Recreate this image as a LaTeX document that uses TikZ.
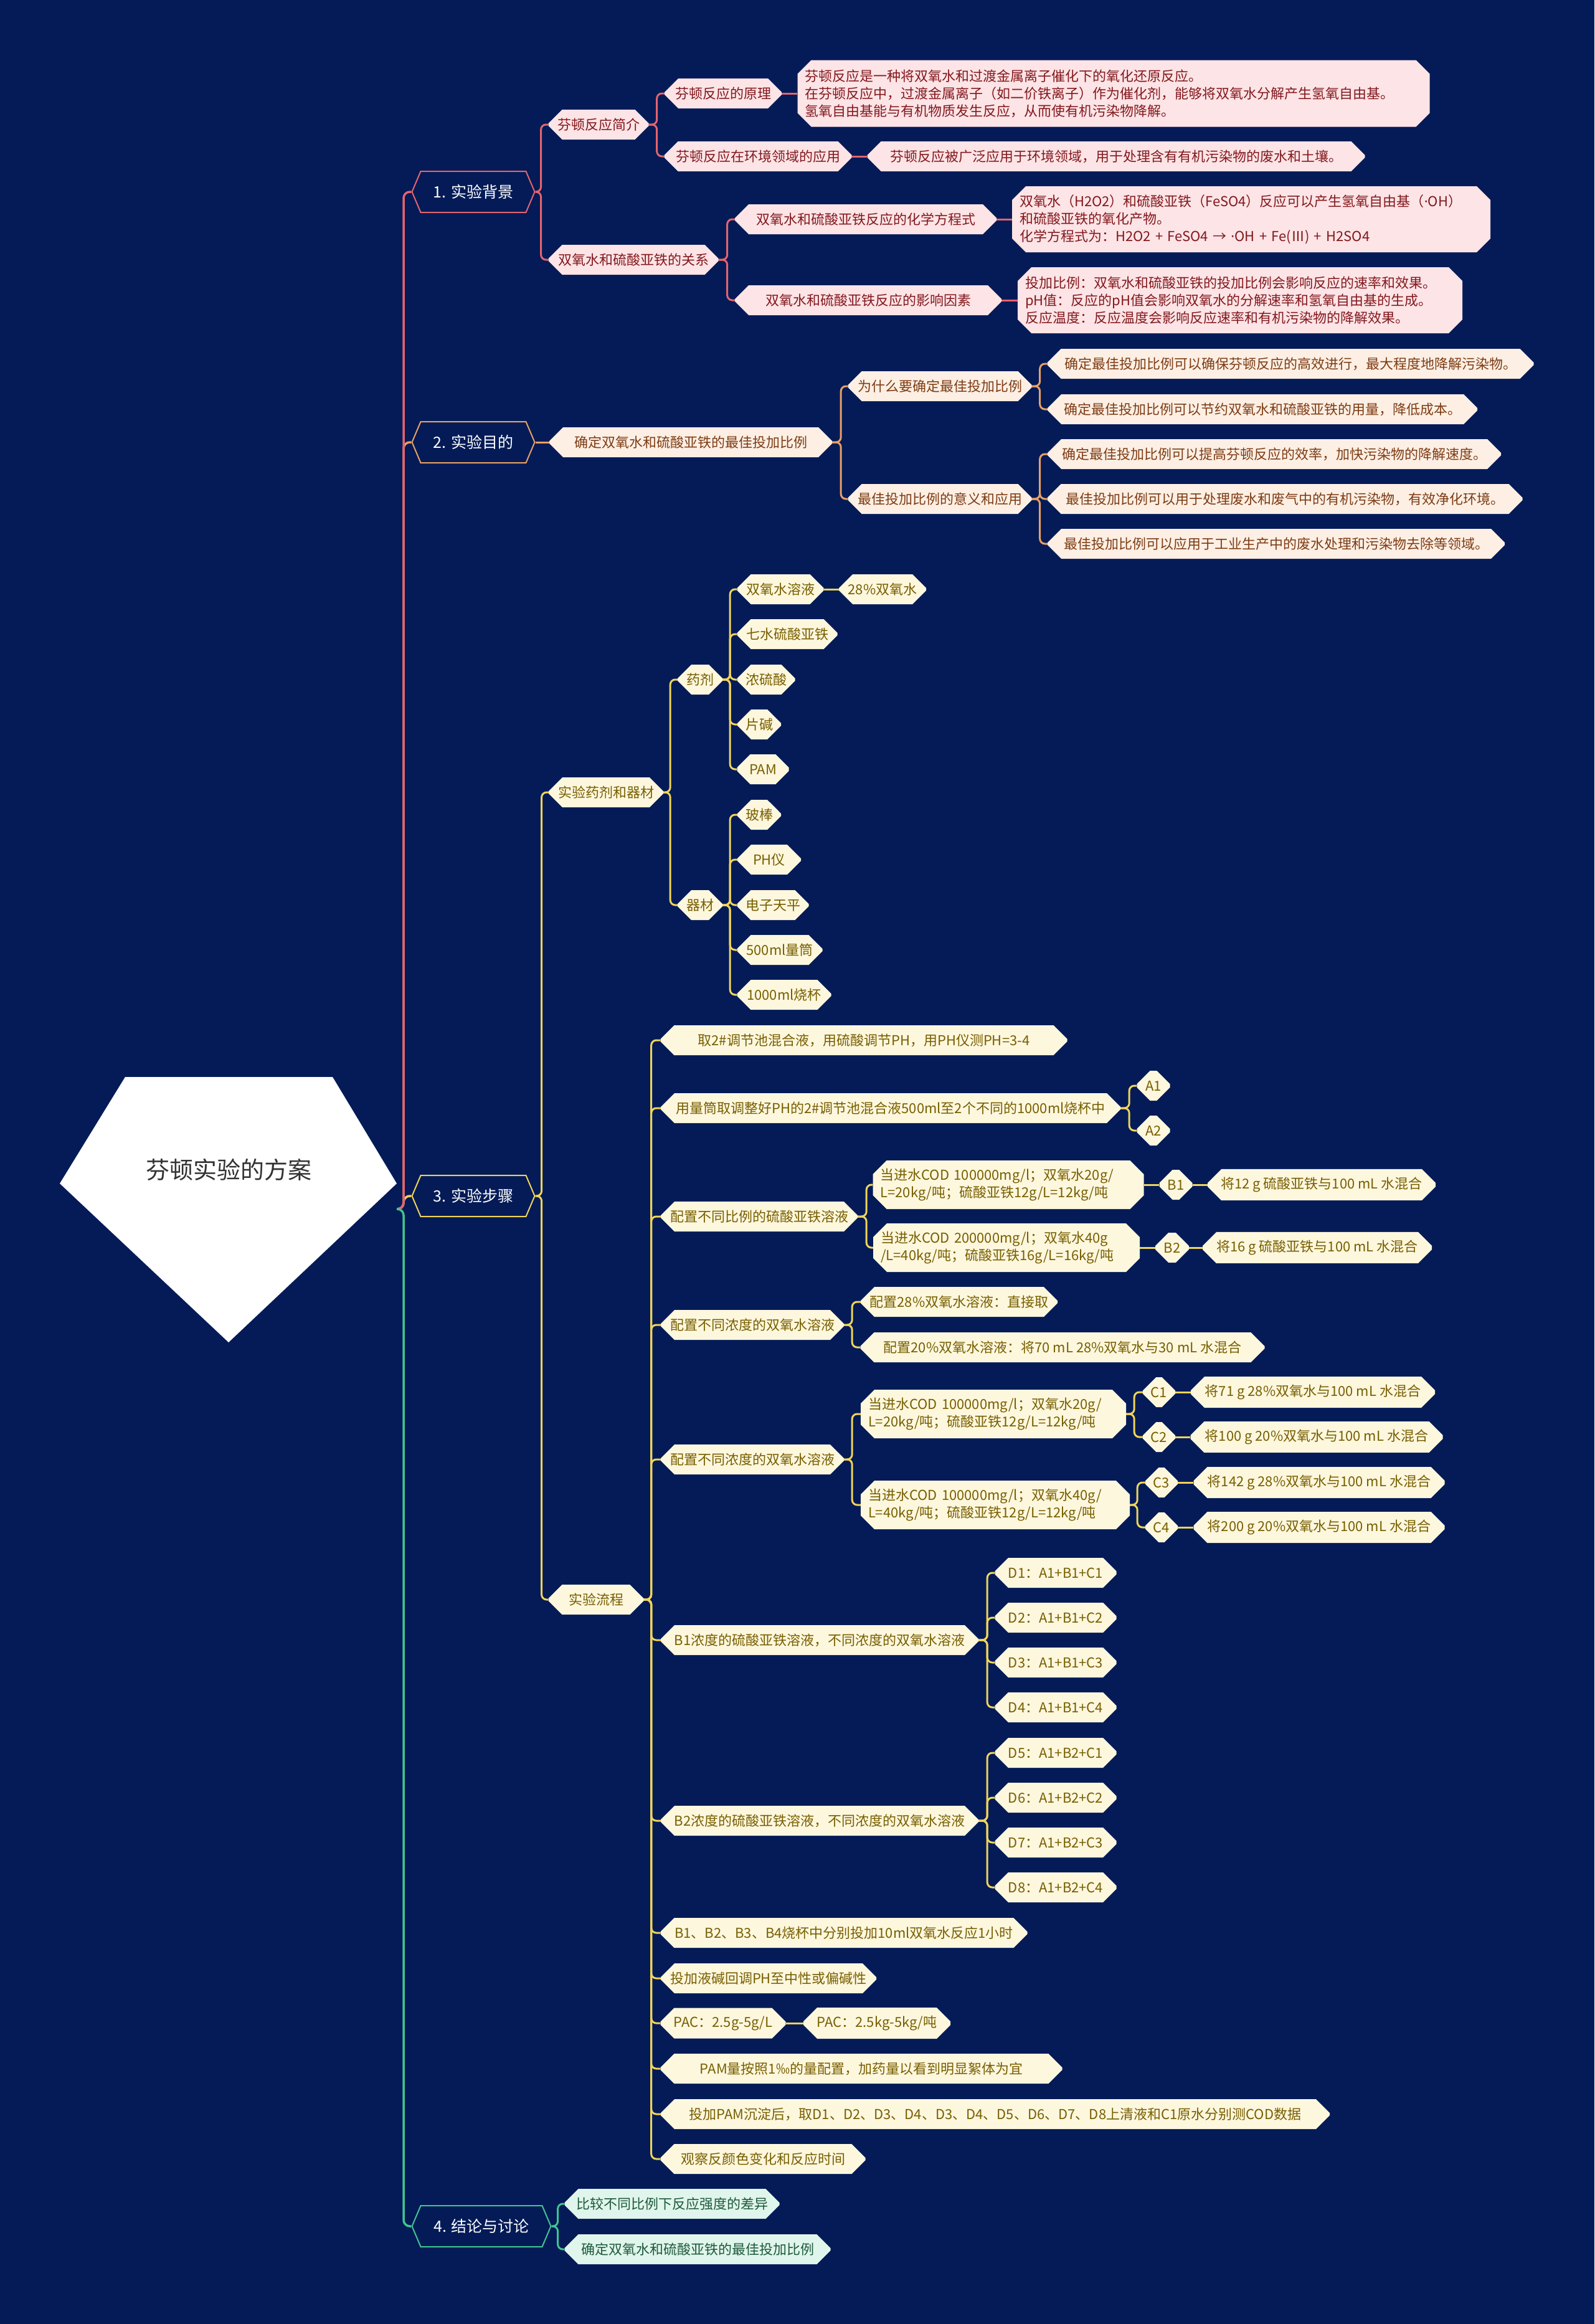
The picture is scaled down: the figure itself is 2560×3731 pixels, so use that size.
\documentclass[tikz,border=0pt]{standalone}
\usepackage{fontspec}
\setmainfont{Noto Sans CJK SC}
\newfontfamily\latinf{Noto Sans}
\usetikzlibrary{shapes.misc,shapes.symbols}
\pgfdeclarelayer{bgfill}
\pgfdeclarelayer{lines}
\pgfsetlayers{bgfill,lines,main}
\definecolor{bg}{RGB}{4,27,87}
\definecolor{pkfill}{RGB}{253,228,230}
\definecolor{pktext}{RGB}{130,25,30}
\definecolor{pkline}{RGB}{228,100,110}
\definecolor{orfill}{RGB}{253,239,228}
\definecolor{ortext}{RGB}{125,60,20}
\definecolor{orline}{RGB}{232,160,100}
\definecolor{yefill}{RGB}{253,247,222}
\definecolor{yetext}{RGB}{120,95,0}
\definecolor{yeline}{RGB}{240,212,90}
\definecolor{grfill}{RGB}{224,245,236}
\definecolor{grtext}{RGB}{30,90,60}
\definecolor{grline}{RGB}{64,196,144}
\definecolor{roottext}{RGB}{50,50,50}
\begin{document}
\begin{tikzpicture}[x=1pt,y=-1pt,
  box/.style={chamfered rectangle, chamfered rectangle xsep=11pt, chamfered rectangle ysep=11pt,
    minimum height=48pt, inner xsep=2pt, inner ysep=2pt, font=\fontsize{22}{28}\selectfont, align=left},
  multi/.style={inner xsep=1pt, text width=#1},
  bA/.style={box, fill=pkfill, text=pktext},
  bB/.style={box, fill=orfill, text=ortext},
  bC/.style={box, fill=yefill, text=yetext},
  bD/.style={box, fill=grfill, text=grtext},
  topic/.style={signal, signal to=east and west, signal pointer angle=134, line width=2pt,
    fill=bg, text=white, font=\fontsize{25}{30}\selectfont, minimum height=66pt, inner sep=0pt},
  lA/.style={draw=pkline, line width=3pt, rounded corners=8pt},
  lB/.style={draw=orline, line width=3pt, rounded corners=8pt},
  lC/.style={draw=yeline, line width=3pt, rounded corners=8pt},
  lD/.style={draw=grline, line width=3pt, rounded corners=8pt},
  trunkA/.style={draw=pkline, line width=3.5pt, rounded corners=10pt},
  trunkB/.style={draw=orline, line width=3.5pt, rounded corners=10pt},
  trunkC/.style={draw=yeline, line width=3.5pt, rounded corners=10pt},
  trunkD/.style={draw=grline, line width=3.5pt, rounded corners=10pt}
]
\useasboundingbox (0,0) rectangle (2560,3731);
\begin{pgfonlayer}{bgfill}
\fill[bg] (0,0) rectangle (2560,3731);
\end{pgfonlayer}

% root
\fill[white] (201,1729) -- (534,1729) -- (637,1900) -- (367,2155) -- (96,1900) -- cycle;
\node[text=roottext, font=\fontsize{38}{44}\selectfont] (root) at (367,1878) {芬顿实验的方案};
\coordinate (rootc) at (637,1941);

% ---------- level 1 ----------
\node[topic, draw=pkline, minimum width=197pt] (n1) at (760,308) {1. 实验背景};
\node[topic, draw=orline, minimum width=197pt] (n2) at (760,710) {2. 实验目的};
\node[topic, draw=yeline, minimum width=197pt] (n3) at (760,1920) {3. 实验步骤};
\node[topic, draw=grline, minimum width=223pt] (n4) at (773,3574) {4. 结论与讨论};

% ---------- branch 1 ----------
\node[bA, minimum width=161pt] (a1) at (961,200) {芬顿反应简介};
\node[bA, minimum width=273pt] (a2) at (1017,417) {双氧水和硫酸亚铁的关系};
\node[bA, minimum width=188pt] (a11) at (1161,150) {芬顿反应的原理};
\node[bA, minimum width=301pt] (a12) at (1217,251) {芬顿反应在环境领域的应用};
\node[bA, minimum width=420pt] (a21) at (1390,352) {双氧水和硫酸亚铁反应的化学方程式};
\node[bA, minimum width=428pt] (a22) at (1394,482) {双氧水和硫酸亚铁反应的影响因素};
\node[bA, multi=991pt, minimum height=107pt] (a111) at (1788,150)
  {芬顿反应是一种将双氧水和过渡金属离子催化下的氧化还原反应。\\在芬顿反应中，过渡金属离子（如二价铁离子）作为催化剂，能够将双氧水分解产生氢氧自由基。\\氢氧自由基能与有机物质发生反应，从而使有机污染物降解。};
\node[bA, minimum width=799pt] (a121) at (1792,251) {芬顿反应被广泛应用于环境领域，用于处理含有有机污染物的废水和土壤。};
\node[bA, multi=744pt, minimum height=106pt] (a211) at (2009,352)
  {双氧水（H2O2）和硫酸亚铁（FeSO4）反应可以产生氢氧自由基（{\latinf ·}OH）\\和硫酸亚铁的氧化产物。\\化学方程式为：H2O2 + FeSO4 → {\latinf ·}OH + Fe(Ⅲ) + H2SO4};
\node[bA, multi=690pt, minimum height=106pt] (a221) at (1991,482)
  {投加比例：双氧水和硫酸亚铁的投加比例会影响反应的速率和效果。\\pH值：反应的pH值会影响双氧水的分解速率和氢氧自由基的生成。\\反应温度：反应温度会影响反应速率和有机污染物的降解效果。};

% ---------- branch 2 ----------
\node[bB, minimum width=454pt] (b1) at (1109,710) {确定双氧水和硫酸亚铁的最佳投加比例};
\node[bB, minimum width=295pt] (b11) at (1509,620) {为什么要确定最佳投加比例};
\node[bB, minimum width=295pt] (b12) at (1509,801) {最佳投加比例的意义和应用};
\node[bB, minimum width=781pt] (b111) at (2072,584) {确定最佳投加比例可以确保芬顿反应的高效进行，最大程度地降解污染物。};
\node[bB, minimum width=690pt] (b112) at (2027,657) {确定最佳投加比例可以节约双氧水和硫酸亚铁的用量，降低成本。};
\node[bB, minimum width=728pt] (b121) at (2046,729) {确定最佳投加比例可以提高芬顿反应的效率，加快污染物的降解速度。};
\node[bB, minimum width=763pt] (b122) at (2063,801) {最佳投加比例可以用于处理废水和废气中的有机污染物，有效净化环境。};
\node[bB, minimum width=734pt] (b123) at (2049,873) {最佳投加比例可以应用于工业生产中的废水处理和污染物去除等领域。};

% ---------- branch 3 ----------
\node[bC, minimum width=184pt] (c1) at (973,1272) {实验药剂和器材};
\node[bC, minimum width=72pt] (c11) at (1124,1091) {药剂};
\node[bC, minimum width=72pt] (c12) at (1124,1453) {器材};
\node[bC, minimum width=139pt] (c111) at (1253,946) {双氧水溶液};
\node[bC, minimum width=140pt] (c1111) at (1417,946) {28\%双氧水};
\node[bC, minimum width=161pt] (c112) at (1264,1018) {七水硫酸亚铁};
\node[bC, minimum width=93pt] (c113) at (1230,1091) {浓硫酸};
\node[bC, minimum width=70pt] (c114) at (1219,1163) {片碱};
\node[bC, minimum width=83pt] (c115) at (1225,1235) {PAM};
\node[bC, minimum width=70pt] (c121) at (1219,1308) {玻棒};
\node[bC, minimum width=102pt] (c122) at (1235,1380) {PH仪};
\node[bC, minimum width=115pt] (c123) at (1241,1453) {电子天平};
\node[bC, minimum width=137pt] (c124) at (1252,1525) {500ml量筒};
\node[bC, minimum width=151pt] (c125) at (1259,1597) {1000ml烧杯};

\node[bC, minimum width=153pt] (c2) at (957,2568) {实验流程};
\node[bC, minimum width=653pt] (c21) at (1387,1670) {取2\#调节池混合液，用硫酸调节PH，用PH仪测PH=3-4};
\node[bC, minimum width=738pt] (c22) at (1430,1779) {用量筒取调整好PH的2\#调节池混合液500ml至2个不同的1000ml烧杯中};
\node[bC, minimum width=53pt] (A1) at (1852,1743) {A1};
\node[bC, minimum width=53pt] (A2) at (1852,1815) {A2};
\node[bC, minimum width=316pt] (c23) at (1219,1953) {配置不同比例的硫酸亚铁溶液};
\node[bC, multi=411pt, minimum height=77pt] (c231) at (1619,1902) {当进水COD 100000mg/l；双氧水20g/\\L=20kg/吨；硫酸亚铁12g/L=12kg/吨};
\node[bC, minimum width=53pt] (B1) at (1888,1902) {B1};
\node[bC, minimum width=366pt] (B1t) at (2122,1902) {将12 g 硫酸亚铁与100 mL 水混合};
\node[bC, multi=404pt, minimum height=77pt] (c232) at (1616,2003) {当进水COD 200000mg/l；双氧水40g\\/L=40kg/吨；硫酸亚铁16g/L=16kg/吨};
\node[bC, minimum width=54pt] (B2) at (1882,2003) {B2};
\node[bC, minimum width=368pt] (B2t) at (2115,2003) {将16 g 硫酸亚铁与100 mL 水混合};
\node[bC, minimum width=294pt] (c24) at (1208,2127) {配置不同浓度的双氧水溶液};
\node[bC, minimum width=316pt] (c241) at (1540,2090) {配置28\%双氧水溶液：直接取};
\node[bC, minimum width=649pt] (c242) at (1706,2163) {配置20\%双氧水溶液：将70 mL 28\%双氧水与30 mL 水混合};
\node[bC, minimum width=294pt] (c25) at (1208,2343) {配置不同浓度的双氧水溶液};
\node[bC, multi=402pt, minimum height=77pt] (c251) at (1595,2270) {当进水COD 100000mg/l；双氧水20g/\\L=20kg/吨；硫酸亚铁12g/L=12kg/吨};
\node[bC, minimum width=52pt] (C1) at (1861,2235) {C1};
\node[bC, minimum width=392pt] (C1t) at (2108,2235) {将71 g 28\%双氧水与100 mL 水混合};
\node[bC, minimum width=52pt] (C2) at (1861,2307) {C2};
\node[bC, minimum width=405pt] (C2t) at (2114,2307) {将100 g 20\%双氧水与100 mL 水混合};
\node[bC, multi=408pt, minimum height=77pt] (c252) at (1598,2416) {当进水COD 100000mg/l；双氧水40g/\\L=40kg/吨；硫酸亚铁12g/L=12kg/吨};
\node[bC, minimum width=52pt] (C3) at (1865,2380) {C3};
\node[bC, minimum width=403pt] (C3t) at (2118,2380) {将142 g 28\%双氧水与100 mL 水混合};
\node[bC, minimum width=52pt] (C4) at (1865,2452) {C4};
\node[bC, minimum width=403pt] (C4t) at (2118,2452) {将200 g 20\%双氧水与100 mL 水混合};
\node[bC, minimum width=510pt] (c26) at (1316,2633) {B1浓度的硫酸亚铁溶液，不同浓度的双氧水溶液};
\node[bC, minimum width=195pt] (D1) at (1695,2525) {D1：A1+B1+C1};
\node[bC, minimum width=195pt] (D2) at (1695,2597) {D2：A1+B1+C2};
\node[bC, minimum width=195pt] (D3) at (1695,2669) {D3：A1+B1+C3};
\node[bC, minimum width=195pt] (D4) at (1695,2741) {D4：A1+B1+C4};
\node[bC, minimum width=510pt] (c27) at (1316,2923) {B2浓度的硫酸亚铁溶液，不同浓度的双氧水溶液};
\node[bC, minimum width=195pt] (D5) at (1695,2814) {D5：A1+B2+C1};
\node[bC, minimum width=195pt] (D6) at (1695,2886) {D6：A1+B2+C2};
\node[bC, minimum width=195pt] (D7) at (1695,2958) {D7：A1+B2+C3};
\node[bC, minimum width=195pt] (D8) at (1695,3030) {D8：A1+B2+C4};
\node[bC, minimum width=589pt] (c28) at (1355,3103) {B1、B2、B3、B4烧杯中分别投加10ml双氧水反应1小时};
\node[bC, minimum width=346pt] (c29) at (1234,3176) {投加液碱回调PH至中性或偏碱性};
\node[bC, minimum width=201pt] (c2a) at (1161,3248) {PAC：2.5g-5g/L};
\node[bC, minimum width=236pt] (c2a1) at (1408,3248) {PAC：2.5kg-5kg/吨};
\node[bC, minimum width=645pt] (c2b) at (1383,3321) {PAM量按照1‰的量配置，加药量以看到明显絮体为宜};
\node[bC, minimum width=1074pt] (c2c) at (1598,3394) {投加PAM沉淀后，取D1、D2、D3、D4、D3、D4、D5、D6、D7、D8上清液和C1原水分别测COD数据};
\node[bC, minimum width=329pt] (c2d) at (1225,3466) {观察反颜色变化和反应时间};

% ---------- branch 4 ----------
\node[bD, minimum width=345pt] (d1) at (1079,3538) {比较不同比例下反应强度的差异};
\node[bD, minimum width=427pt] (d2) at (1120,3611) {确定双氧水和硫酸亚铁的最佳投加比例};

% ---------- connectors ----------
\begin{pgfonlayer}{lines}
% trunk
\draw[trunkC] (rootc) -- ++(11,0) |- (n3.west);
\draw[trunkB] (rootc) -- ++(11,0) |- (n2.west);
\draw[trunkA] (rootc) -- ++(11,0) |- (n1.west);
\draw[trunkD] (rootc) -- ++(11,0) |- (n4.west);
% branch 1
\draw[lA] (n1.east) -- ++(9,0) |- (a1.west);
\draw[lA] (n1.east) -- ++(9,0) |- (a2.west);
\draw[lA] (a1.east) -- ++(13,0) |- (a11.west);
\draw[lA] (a1.east) -- ++(13,0) |- (a12.west);
\draw[lA] (a2.east) -- ++(14,0) |- (a21.west);
\draw[lA] (a2.east) -- ++(14,0) |- (a22.west);
\draw[lA] (a11.east) -- (a111.west);
\draw[lA] (a12.east) -- (a121.west);
\draw[lA] (a21.east) -- (a211.west);
\draw[lA] (a22.east) -- (a221.west);
% branch 2
\draw[lB] (n2.east) -- (b1.west);
\draw[lB] (b1.east) -- ++(14,0) |- (b11.west);
\draw[lB] (b1.east) -- ++(14,0) |- (b12.west);
\draw[lB] (b11.east) -- ++(13,0) |- (b111.west);
\draw[lB] (b11.east) -- ++(13,0) |- (b112.west);
\draw[lB] (b12.east) -- ++(13,0) |- (b121.west);
\draw[lB] (b12.east) -- ++(13,0) |- (b122.west);
\draw[lB] (b12.east) -- ++(13,0) |- (b123.west);
% branch 3
\draw[lC] (n3.east) -- ++(10,0) |- (c1.west);
\draw[lC] (n3.east) -- ++(10,0) |- (c2.west);
\foreach \k in {c11,c12} \draw[lC] (c1.east) -- ++(11,0) |- (\k.west);
\foreach \k in {c111,c112,c113,c114,c115} \draw[lC] (c11.east) -- ++(12,0) |- (\k.west);
\foreach \k in {c121,c122,c123,c124,c125} \draw[lC] (c12.east) -- ++(12,0) |- (\k.west);
\draw[lC] (c111.east) -- (c1111.west);
\foreach \k in {c21,c22,c23,c24,c25,c26,c27,c28,c29,c2a,c2b,c2c,c2d} \draw[lC] (c2.east) -- ++(12,0) |- (\k.west);
\foreach \k in {A1,A2} \draw[lC] (c22.east) -- ++(14,0) |- (\k.west);
\foreach \k in {c231,c232} \draw[lC] (c23.east) -- ++(14,0) |- (\k.west);
\draw[lC] (c231.east) -- (B1.west);
\draw[lC] (B1.east) -- (B1t.west);
\draw[lC] (c232.east) -- (B2.west);
\draw[lC] (B2.east) -- (B2t.west);
\foreach \k in {c241,c242} \draw[lC] (c24.east) -- ++(13,0) |- (\k.west);
\foreach \k in {c251,c252} \draw[lC] (c25.east) -- ++(13,0) |- (\k.west);
\foreach \k in {C1,C2} \draw[lC] (c251.east) -- ++(13,0) |- (\k.west);
\foreach \k in {C3,C4} \draw[lC] (c252.east) -- ++(12,0) |- (\k.west);
\draw[lC] (C1.east) -- (C1t.west);
\draw[lC] (C2.east) -- (C2t.west);
\draw[lC] (C3.east) -- (C3t.west);
\draw[lC] (C4.east) -- (C4t.west);
\foreach \k in {D1,D2,D3,D4} \draw[lC] (c26.east) -- ++(14,0) |- (\k.west);
\foreach \k in {D5,D6,D7,D8} \draw[lC] (c27.east) -- ++(14,0) |- (\k.west);
\draw[lC] (c2a.east) -- (c2a1.west);
% branch 4
\draw[lD] (n4.east) -- ++(10,0) |- (d1.west);
\draw[lD] (n4.east) -- ++(10,0) |- (d2.west);
\end{pgfonlayer}
\end{tikzpicture}
\end{document}
